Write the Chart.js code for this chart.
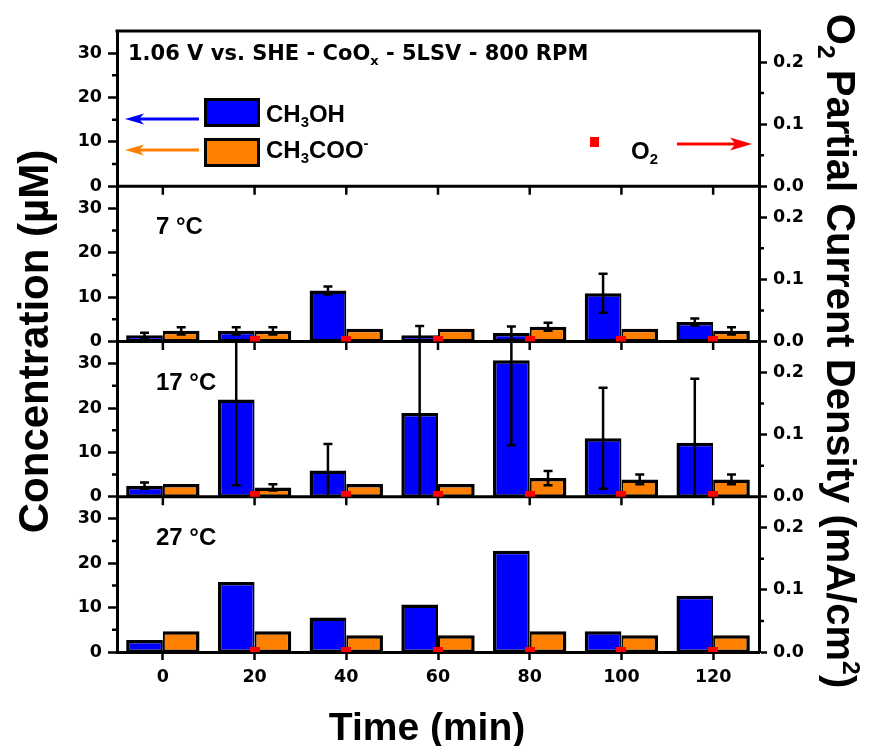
<!DOCTYPE html>
<html>
<head>
<meta charset="utf-8">
<title>Concentration and O2 partial current density vs time</title>
<script src="https://cdn.jsdelivr.net/npm/chart.js@4.4.1/dist/chart.umd.min.js"></script>
<style>
  html, body { margin: 0; padding: 0; background: #fff; }
  #wrap { width: 872px; height: 746px; }
</style>
</head>
<body>
<div id="wrap"><canvas id="chart" width="872" height="746"></canvas></div>
<script>
// sampling times (min), O2 is not measured at 0
const times = [0, 20, 40, 60, 80, 100, 120];
const o2Times = [20, 40, 60, 80, 100, 120];

// 7 °C
const methanol7 = [1.4, 2.4, 11.5, 1.4, 1.9, 10.9, 4.4];
const methanol7Err = [0.6, 0.8, 0.9, 2.1, 1.5, 4.4, 0.8];
const acetate7 = [2.4, 2.4, 2.9, 2.9, 3.3, 2.9, 2.4];
const acetate7Err = [0.8, 0.8, 0, 0, 0.9, 0, 0.8];
const o2At7 = [0.004, 0.004, 0.004, 0.004, 0.004, 0.004];

// 17 °C
const methanol17 = [2.5, 21.9, 5.9, 18.9, 30.8, 13.2, 12.2];
const methanol17Err = [0.7, 19.3, 6.0, 19.0, 19.2, 11.4, 14.4];
const acetate17 = [2.9, 2.1, 2.9, 2.9, 4.2, 3.9, 3.9];
const acetate17Err = [0, 0.7, 0, 0, 1.6, 1.1, 1.1];
const o2At17 = [0.004, 0.004, 0.004, 0.004, 0.004, 0.004];

// 27 °C (no error bars)
const methanol27 = [2.7, 15.8, 7.8, 10.7, 22.8, 4.7, 12.7];
const acetate27 = [4.7, 4.7, 3.8, 3.8, 4.7, 3.8, 3.8];
const o2At27 = [0.004, 0.004, 0.004, 0.004, 0.004, 0.004];

const panelLabels = ['7 °C', '17 °C', '27 °C'];
const concTicks = [0, 10, 20, 30];
const concMinor = [5, 15, 25];
const currentTicks = [0, 0.1, 0.2];
const currentMinor = [0.05, 0.15];

const BLUE = '#0000ff';
const ORANGE = '#ff8000';
const RED = '#ff0000';
const ARIAL = "'Liberation Sans', Arial, sans-serif";
const WIDE = "'DejaVu Sans', sans-serif";
const TICK_FONT = { family: WIDE, size: 17.5, weight: 'bold' };

// one left (concentration) and one right (current) axis per panel, top to bottom
const leftIds = ['c0', 'c1', 'c2', 'c3'];
const rightIds = ['j0', 'j1', 'j2', 'j3'];

// small red rectangle used as the O2 marker
const o2Mark = document.createElement('canvas');
o2Mark.width = 10;
o2Mark.height = 6;
const mctx = o2Mark.getContext('2d');
mctx.fillStyle = RED;
mctx.fillRect(0, 0, 10, 6);

function barSet(label, values, errors, color, axis, stack, border) {
  return {
    type: 'bar',
    label,
    yAxisID: axis,
    stack,
    data: times.map((t, i) => ({ x: t, y: values[i] })),
    errors,
    backgroundColor: color,
    borderColor: '#000',
    borderWidth: border,
    borderSkipped: false,
    inflateAmount: 0,
    categoryPercentage: 0.8,
    barPercentage: 1,
    order: 1
  };
}

function o2Set(values, axis) {
  return {
    type: 'scatter',
    label: 'O2',
    yAxisID: axis,
    data: o2Times.map((t, i) => ({ x: t, y: values[i] })),
    pointStyle: o2Mark,
    showLine: false,
    order: 0
  };
}

const blueBorder = { top: 3.5, left: 3.5, right: 2, bottom: 2 };
const orangeBorder = { top: 3.5, left: 2, right: 3.5, bottom: 2 };

const datasets = [
  barSet('CH3OH 7', methanol7, methanol7Err, BLUE, 'c1', 'meoh', blueBorder),
  barSet('CH3COO 7', acetate7, acetate7Err, ORANGE, 'c1', 'ace', orangeBorder),
  barSet('CH3OH 17', methanol17, methanol17Err, BLUE, 'c2', 'meoh', blueBorder),
  barSet('CH3COO 17', acetate17, acetate17Err, ORANGE, 'c2', 'ace', orangeBorder),
  barSet('CH3OH 27', methanol27, null, BLUE, 'c3', 'meoh', blueBorder),
  barSet('CH3COO 27', acetate27, null, ORANGE, 'c3', 'ace', orangeBorder),
  o2Set(o2At7, 'j1'),
  o2Set(o2At17, 'j2'),
  o2Set(o2At27, 'j3')
];

function concAxis(weight) {
  return {
    type: 'linear', position: 'left', stack: 'conc', stackWeight: 1, weight,
    min: 0, max: 35,
    afterBuildTicks: s => { s.ticks = concTicks.map(v => ({ value: v })); },
    afterFit: s => { s.width = 117; },
    grid: { drawOnChartArea: false, tickLength: 9, tickWidth: 2.5, tickColor: '#000' },
    border: { color: '#000', width: 3 },
    ticks: { font: TICK_FONT, color: '#000', padding: 6 }
  };
}

function currentAxis(weight) {
  return {
    type: 'linear', position: 'right', stack: 'cur', stackWeight: 1, weight,
    min: 0, max: 0.25,
    afterBuildTicks: s => { s.ticks = currentTicks.map(v => ({ value: v })); },
    afterFit: s => { s.width = 113; },
    grid: { drawOnChartArea: false, tickLength: 8, tickWidth: 2.5, tickColor: '#000' },
    border: { color: '#000', width: 3 },
    ticks: { font: TICK_FONT, color: '#000', padding: 6, callback: v => v.toFixed(1) }
  };
}

const scales = {
  x: {
    type: 'linear', position: 'bottom',
    min: -10, max: 130, offset: false,
    afterBuildTicks: s => { s.ticks = times.map(v => ({ value: v })); },
    afterFit: s => { s.height = 94; },
    grid: { drawOnChartArea: false, offset: false, tickLength: 8, tickWidth: 2.5, tickColor: '#000' },
    border: { color: '#000', width: 3 },
    ticks: { font: TICK_FONT, color: '#000', padding: 7, maxRotation: 0 }
  }
};
leftIds.forEach((id, i) => { scales[id] = concAxis(leftIds.length - i); });
rightIds.forEach((id, i) => { scales[id] = currentAxis(i + 1); });

// text with sub/superscripts: parts = [[text, shift]], shift -1 sub, 1 sup
function richText(ctx, parts, x, y, size, family, align) {
  const fontOf = p => `bold ${p[1] ? size * 0.62 : size}px ${family}`;
  let total = 0;
  parts.forEach(p => { ctx.font = fontOf(p); total += ctx.measureText(p[0]).width; });
  let cx = align === 'center' ? x - total / 2 : x;
  ctx.textAlign = 'left';
  ctx.textBaseline = 'alphabetic';
  parts.forEach(p => {
    ctx.font = fontOf(p);
    const dy = p[1] < 0 ? size * 0.22 : (p[1] > 0 ? -size * 0.42 : 0);
    ctx.fillText(p[0], cx, y + dy);
    cx += ctx.measureText(p[0]).width;
  });
}

function arrow(ctx, x0, y, x1, color, headLen, headHalf) {
  const dir = Math.sign(x1 - x0);
  ctx.strokeStyle = color;
  ctx.fillStyle = color;
  ctx.lineWidth = 3;
  ctx.beginPath();
  ctx.moveTo(x0, y);
  ctx.lineTo(x1 - dir * headLen * 0.7, y);
  ctx.stroke();
  ctx.beginPath();
  ctx.moveTo(x1, y);
  ctx.lineTo(x1 - dir * headLen, y - headHalf);
  ctx.lineTo(x1 - dir * headLen * 0.75, y);
  ctx.lineTo(x1 - dir * headLen, y + headHalf);
  ctx.closePath();
  ctx.fill();
}

// panel separators, x ticks between panels and minor y ticks
const panelFrame = {
  id: 'panelFrame',
  beforeDatasetsDraw(chart) {
    const { ctx, chartArea: a, scales: s } = chart;
    ctx.save();
    ctx.strokeStyle = '#000';
    ctx.lineWidth = 3;
    ctx.beginPath();
    ctx.moveTo(a.left - 1.5, a.top);
    ctx.lineTo(a.right + 1.5, a.top);
    leftIds.slice(0, -1).forEach(id => {
      ctx.moveTo(a.left, s[id].bottom);
      ctx.lineTo(a.right, s[id].bottom);
    });
    ctx.stroke();
    ctx.lineWidth = 2.5;
    ctx.beginPath();
    leftIds.slice(0, -1).forEach(id => {
      const yb = s[id].bottom;
      times.forEach(t => {
        const px = s.x.getPixelForValue(t);
        ctx.moveTo(px, yb);
        ctx.lineTo(px, yb + 8.5);
      });
    });
    leftIds.forEach(id => concMinor.forEach(v => {
      const py = s[id].getPixelForValue(v);
      ctx.moveTo(a.left - 5, py);
      ctx.lineTo(a.left, py);
    }));
    rightIds.forEach(id => currentMinor.forEach(v => {
      const py = s[id].getPixelForValue(v);
      ctx.moveTo(a.right, py);
      ctx.lineTo(a.right + 5, py);
    }));
    ctx.stroke();
    ctx.restore();
  }
};

// error bars, clipped to their own panel
const errorBars = {
  id: 'errorBars',
  afterDatasetDraw(chart, args) {
    const ds = chart.data.datasets[args.index];
    if (!ds.errors) return;
    const ctx = chart.ctx;
    const a = chart.chartArea;
    const ys = chart.scales[ds.yAxisID];
    ctx.save();
    ctx.beginPath();
    ctx.rect(a.left, ys.top, a.right - a.left, ys.bottom - ys.top);
    ctx.clip();
    ctx.strokeStyle = '#000';
    ctx.lineWidth = 2.5;
    args.meta.data.forEach((bar, i) => {
      const e = ds.errors[i];
      if (!e) return;
      const v = ds.data[i].y;
      const top = ys.getPixelForValue(v + e);
      const bot = ys.getPixelForValue(v - e);
      ctx.beginPath();
      ctx.moveTo(bar.x, top);
      ctx.lineTo(bar.x, bot);
      ctx.moveTo(bar.x - 4.5, top);
      ctx.lineTo(bar.x + 4.5, top);
      ctx.moveTo(bar.x - 4.5, bot);
      ctx.lineTo(bar.x + 4.5, bot);
      ctx.stroke();
    });
    ctx.restore();
  }
};

// title, legend, panel labels and axis titles
const annotations = {
  id: 'annotations',
  afterDraw(chart) {
    const { ctx, chartArea: a, scales: s } = chart;
    const L = a.left;
    const T = a.top;
    ctx.save();
    ctx.fillStyle = '#000';
    richText(ctx, [['1.06 V vs. SHE - CoO', 0], ['x', -1], [' - 5LSV - 800 RPM', 0]], L + 11, T + 29, 21, WIDE);

    arrow(ctx, L + 82, T + 88, L + 8, BLUE, 19, 5.5);
    arrow(ctx, L + 82, T + 119, L + 8, ORANGE, 19, 5.5);
    ctx.lineWidth = 3;
    ctx.strokeStyle = '#000';
    ctx.fillStyle = BLUE;
    ctx.fillRect(L + 88.5, T + 68.5, 53, 26);
    ctx.strokeRect(L + 88.5, T + 68.5, 53, 26);
    ctx.fillStyle = ORANGE;
    ctx.fillRect(L + 88.5, T + 108.5, 53, 26);
    ctx.strokeRect(L + 88.5, T + 108.5, 53, 26);
    ctx.fillStyle = '#000';
    richText(ctx, [['CH', 0], ['3', -1], ['OH', 0]], L + 149, T + 91, 24, ARIAL);
    richText(ctx, [['CH', 0], ['3', -1], ['COO', 0], ['-', 1]], L + 149, T + 127, 24, ARIAL);

    ctx.fillStyle = RED;
    ctx.fillRect(L + 473, T + 106, 9, 10);
    arrow(ctx, L + 560, T + 113, L + 635, RED, 22, 6.5);
    ctx.fillStyle = '#000';
    richText(ctx, [['O', 0], ['2', -1]], L + 514, T + 128, 24, ARIAL);

    panelLabels.forEach((txt, i) => {
      ctx.font = `bold 24px ${ARIAL}`;
      ctx.textAlign = 'left';
      ctx.textBaseline = 'alphabetic';
      ctx.fillText(txt, L + 39, s[leftIds[i + 1]].top + 48);
    });

    // axis titles
    ctx.save();
    ctx.translate(33, (a.top + a.bottom) / 2);
    ctx.rotate(-Math.PI / 2);
    richText(ctx, [['Concentration (µM)', 0]], 0, 42 * 0.36, 42, ARIAL, 'center');
    ctx.restore();

    ctx.save();
    ctx.translate(841, 351);
    ctx.rotate(Math.PI / 2);
    richText(ctx, [['O', 0], ['2', -1], [' Partial Current Density (mA/cm', 0], ['2', 1], [')', 0]],
      0, 40 * 0.36, 40, ARIAL, 'center');
    ctx.restore();

    richText(ctx, [['Time (min)', 0]], 427, 740, 39, ARIAL, 'center');
    ctx.restore();
  }
};

new Chart(document.getElementById('chart'), {
  type: 'bar',
  data: { datasets },
  options: {
    responsive: false,
    animation: false,
    layout: { padding: { top: 31, left: 0, right: 0, bottom: 0 } },
    plugins: { legend: { display: false }, tooltip: { enabled: false } },
    scales
  },
  plugins: [panelFrame, errorBars, annotations]
});
</script>
</body>
</html>
